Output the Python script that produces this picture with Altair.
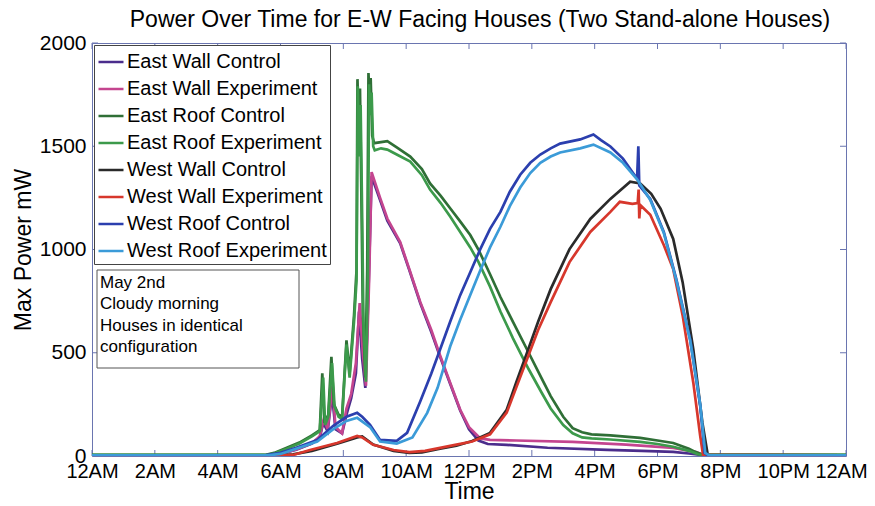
import altair as alt
import pandas as pd

# ---------------- data ----------------
series_names = [
    "East Wall Control", "East Wall Experiment", "East Roof Control", "East Roof Experiment",
    "West Wall Control", "West Wall Experiment", "West Roof Control", "West Roof Experiment",
]
series_colors = ["#4b2d8c", "#c4458f", "#2f6f36", "#3c9a4b", "#2a2a2a", "#d7372c", "#2b3fae", "#3b9bd8"]

hour_ticks = [0, 2, 4, 6, 8, 10, 12, 14, 16, 18, 20, 22, 24]
hour_labels = ["12AM", "2AM", "4AM", "6AM", "8AM", "10AM", "12PM", "2PM", "4PM", "6PM", "8PM", "10PM", "12AM"]
power_ticks = [0, 500, 1000, 1500, 2000]
note_lines = ["May 2nd", "Cloudy morning", "Houses in identical", "configuration"]

ewc_t = [0, 5.6, 6.0, 6.5, 7.0, 7.25, 7.36, 7.5, 7.64, 7.75, 7.96, 8.1, 8.25, 8.4, 8.5, 8.6, 8.7, 8.8, 8.9,
         9.17, 9.4, 9.81, 10.1, 10.45, 10.8, 11.08, 11.4, 11.72, 12.0, 12.3, 12.6, 13.2, 14.5, 16.4, 17.5,
         18.5, 19.0, 19.4, 19.6, 24]
ewc_v = [3, 3, 10, 30, 60, 90, 160, 120, 300, 130, 110, 200, 280, 400, 700, 470, 330, 800, 1355,
         1240, 1140, 1030, 900, 740, 600, 480, 350, 220, 130, 75, 58, 54, 40, 30, 25,
         20, 12, 5, 3, 3]

ewe_t = [0, 5.6, 6.0, 6.5, 7.0, 7.25, 7.38, 7.5, 7.66, 7.75, 7.96, 8.1, 8.25, 8.4, 8.52, 8.62, 8.72, 8.82, 8.9,
         9.17, 9.4, 9.81, 10.1, 10.45, 10.8, 11.08, 11.4, 11.72, 12.0, 12.36, 12.67, 13.5, 15.3, 17.0, 18.5,
         19.2, 19.5, 19.7, 24]
ewe_v = [3, 3, 10, 32, 62, 95, 180, 130, 340, 140, 110, 230, 300, 450, 740, 500, 340, 850, 1375,
         1250, 1150, 1036, 905, 745, 610, 487, 355, 224, 140, 85, 78, 75, 68, 55, 39,
         20, 5, 3, 3]

erc_t = [0, 5.5, 5.8, 6.2, 6.6, 7.0, 7.25, 7.33, 7.4, 7.52, 7.62, 7.7, 7.85, 7.96, 8.1, 8.2, 8.34, 8.42,
         8.45, 8.5, 8.53, 8.58, 8.62, 8.7, 8.76, 8.8, 8.84, 8.87, 8.92, 8.98, 9.2, 9.4, 9.7, 10.13, 10.5,
         10.76, 11.1, 11.4, 11.7, 12.04, 12.3, 12.67, 13.0, 13.4, 13.9, 14.3, 14.6, 15.0, 15.3, 15.6, 15.9,
         16.5, 17.45, 18.0, 18.5, 19.0, 19.2, 19.45, 24]
erc_v = [5, 5, 15, 40, 65, 100, 125, 400, 160, 200, 480, 250, 200, 190, 560, 400, 680, 900,
         1825, 1500, 1780, 1200, 700, 380, 900, 1855, 1700, 1830, 1550, 1515, 1520, 1525, 1495, 1450, 1390,
         1320, 1260, 1200, 1140, 1070, 1000, 880, 770, 650, 500, 380, 290, 190, 135, 115, 105,
         100, 88, 75, 63, 35, 20, 5, 5]

ere_t = [0, 5.5, 5.8, 6.2, 6.6, 7.0, 7.25, 7.36, 7.42, 7.52, 7.64, 7.72, 7.85, 7.96, 8.1, 8.2, 8.34, 8.42,
         8.46, 8.5, 8.55, 8.6, 8.64, 8.72, 8.78, 8.82, 8.86, 8.9, 8.95, 9.0, 9.2, 9.4, 9.7, 10.13, 10.5,
         10.76, 11.1, 11.4, 11.7, 12.04, 12.3, 12.67, 13.0, 13.4, 13.9, 14.3, 14.6, 15.0, 15.3, 15.6, 15.9,
         16.5, 17.45, 18.0, 18.5, 19.0, 19.3, 19.5, 24]
ere_v = [5, 5, 12, 35, 60, 95, 120, 380, 150, 190, 450, 240, 190, 180, 540, 380, 650, 850,
         1790, 1450, 1700, 1150, 650, 360, 850, 1800, 1650, 1760, 1500, 1480, 1490, 1484, 1460, 1426, 1360,
         1290, 1225, 1160, 1090, 1010, 940, 820, 700, 570, 420, 310, 230, 150, 110, 90, 85,
         80, 68, 58, 45, 25, 8, 5, 5]

wwc_t = [0, 6.0, 6.4, 7.0, 7.8, 8.44, 8.6, 8.95, 9.6, 10.1, 10.5, 11.08, 11.6, 12.1, 12.67, 13.2, 13.5,
         13.85, 14.2, 14.6, 15.2, 15.86, 16.5, 17.13, 17.45, 17.8, 18.1, 18.5, 18.8, 19.14, 19.43, 19.6, 24]
wwc_v = [3, 3, 8, 25, 60, 90, 95, 55, 25, 15, 18, 35, 50, 73, 112, 224, 355,
         501, 650, 808, 1002, 1148, 1245, 1328, 1320, 1270, 1197, 1051, 842, 516, 160, 5, 3]

wwe_t = [0, 6.1, 6.4, 6.94, 7.8, 8.44, 8.6, 8.95, 9.6, 10.1, 10.6, 11.08, 11.6, 12.1, 12.67, 13.2, 13.5,
         13.85, 14.2, 14.6, 15.2, 15.86, 16.5, 16.8, 17.2, 17.37, 17.4, 17.42, 17.45, 17.77, 18.2, 18.5,
         18.8, 19.14, 19.36, 19.45, 24]
wwe_v = [3, 3, 5, 29, 63, 97, 90, 54, 29, 19, 25, 39, 55, 70, 105, 210, 330,
         470, 610, 745, 939, 1085, 1182, 1231, 1221, 1225, 1290, 1150, 1215, 1168, 1022, 905,
         681, 355, 97, 5, 3]

wrc_t = [0, 5.5, 6.0, 6.5, 7.17, 7.68, 8.1, 8.44, 8.6, 8.85, 9.17, 9.7, 10.03, 10.45, 10.8, 11.08, 11.4,
         11.72, 12.04, 12.36, 12.67, 13.0, 13.3, 13.63, 13.95, 14.27, 14.6, 14.9, 15.54, 15.96, 16.2, 16.5,
         16.9, 17.35, 17.39, 17.42, 17.77, 18.2, 18.6, 19.04, 19.36, 19.5, 19.6, 24]
wrc_v = [3, 3, 15, 40, 78, 146, 190, 209, 190, 151, 78, 73, 112, 265, 400, 516, 650,
         779, 890, 1002, 1100, 1182, 1280, 1362, 1420, 1460, 1490, 1513, 1533, 1557, 1530, 1499,
         1440, 1343, 1500, 1310, 1245, 1085, 856, 564, 243, 15, 3, 3]

wre_t = [0, 5.6, 6.0, 6.5, 7.17, 7.68, 8.1, 8.44, 8.85, 9.17, 9.7, 10.2, 10.67, 11.0, 11.4, 11.72, 12.04,
         12.36, 12.67, 13.0, 13.3, 13.63, 13.95, 14.27, 14.6, 14.9, 15.54, 15.96, 16.5, 16.9, 17.35, 17.77,
         18.2, 18.6, 19.04, 19.36, 19.52, 19.65, 24]
wre_v = [3, 3, 10, 35, 70, 130, 170, 185, 140, 70, 60, 90, 209, 330, 530, 660, 780,
         900, 1010, 1110, 1210, 1300, 1370, 1420, 1450, 1470, 1490, 1508, 1470, 1420, 1340, 1240,
         1080, 850, 560, 250, 15, 3, 3]

all_t = [ewc_t, ewe_t, erc_t, ere_t, wwc_t, wwe_t, wrc_t, wre_t]
all_v = [ewc_v, ewe_v, erc_v, ere_v, wwc_v, wwe_v, wrc_v, wre_v]

rows = []
for name, ts, vs in zip(series_names, all_t, all_v):
    assert len(ts) == len(vs), name
    for i, (t, v) in enumerate(zip(ts, vs)):
        rows.append({"series": name, "hour": t, "power": v, "idx": i})
df = pd.DataFrame(rows)

# ---------------- chart ----------------
FONT = "Liberation Sans"
AX = "#6a75b0"
W, H = 754, 413

x_scale = alt.Scale(domain=[0, 24], nice=False, zero=False)
y_scale = alt.Scale(domain=[0, 2000], nice=False)
label_expr = "[" + ",".join(f"'{l}'" for l in hour_labels) + "][round(datum.value/2)]"

axis_style = dict(labelFont=FONT, titleFont=FONT, titleFontSize=23,
                  titleFontWeight="normal", labelColor="black", titleColor="black",
                  ticks=False, domain=False, grid=False, labelOverlap=False, labelFlush=False)

lines = alt.Chart(df).mark_line(strokeWidth=2.7, clip=True).encode(
    x=alt.X("hour:Q", scale=x_scale,
            axis=alt.Axis(values=hour_ticks, labelExpr=label_expr, title="Time", labelFontSize=20,
                          labelOffset={"condition": {"test": "datum.value == 24", "value": -5}, "value": 0},
                          labelPadding=5, titlePadding=-1, **axis_style)),
    y=alt.Y("power:Q", scale=y_scale,
            axis=alt.Axis(values=power_ticks, format="d", title="Max Power mW", labelFontSize=21,
                          labelPadding=6, titlePadding=4, **axis_style)),
    color=alt.Color("series:N", scale=alt.Scale(domain=series_names, range=series_colors),
                    legend=alt.Legend(title=None, orient="top-left", offset=2, padding=3,
                                      strokeColor="#444444", fillColor="white",
                                      symbolType="stroke", symbolSize=625, symbolStrokeWidth=2.5,
                                      labelFontSize=20, labelFont=FONT, labelColor="black",
                                      rowPadding=3, labelOffset=2, labelLimit=0)),
    order="idx:Q",
)

xt = pd.DataFrame({"hour": hour_ticks})
yt = pd.DataFrame({"power": power_ticks})
tick_bottom = alt.Chart(xt).mark_rule(color=AX, strokeWidth=1).encode(
    x="hour:Q", y=alt.value(H), y2=alt.value(H - 6))
tick_top = alt.Chart(xt).mark_rule(color=AX, strokeWidth=1).encode(
    x="hour:Q", y=alt.value(0), y2=alt.value(6))
tick_left = alt.Chart(yt).mark_rule(color=AX, strokeWidth=1).encode(
    y="power:Q", x=alt.value(0), x2=alt.value(6))
tick_right = alt.Chart(yt).mark_rule(color=AX, strokeWidth=1).encode(
    y="power:Q", x=alt.value(W), x2=alt.value(W - 6))

note_df = pd.DataFrame({"k": [0]})
note_box = alt.Chart(note_df).mark_rect(fill="white", stroke="#555555", strokeWidth=1).encode(
    x=alt.value(5), x2=alt.value(207), y=alt.value(227), y2=alt.value(325))
note_text = alt.Chart(note_df).mark_text(
    text=note_lines, align="left", baseline="alphabetic", lineHeight=21.3,
    fontSize=17, font=FONT, color="black").encode(x=alt.value(8), y=alt.value(245))

chart = alt.layer(
    tick_bottom, tick_top, tick_left, tick_right, lines, note_box, note_text
).properties(
    width=W, height=H,
    title=alt.TitleParams("Power Over Time for E-W Facing Houses (Two Stand-alone Houses)",
                          fontSize=23, font=FONT, fontWeight="normal", color="black",
                          anchor="middle", offset=0, dx=11),
    autosize=alt.AutoSizeParams(type="none"),
    padding={"left": 84, "top": 35, "right": 21, "bottom": 48},
    background="white",
).configure_view(
    stroke=AX, strokeWidth=1
)

chart.save("out.html", embed_options={"renderer": "svg", "actions": False})
